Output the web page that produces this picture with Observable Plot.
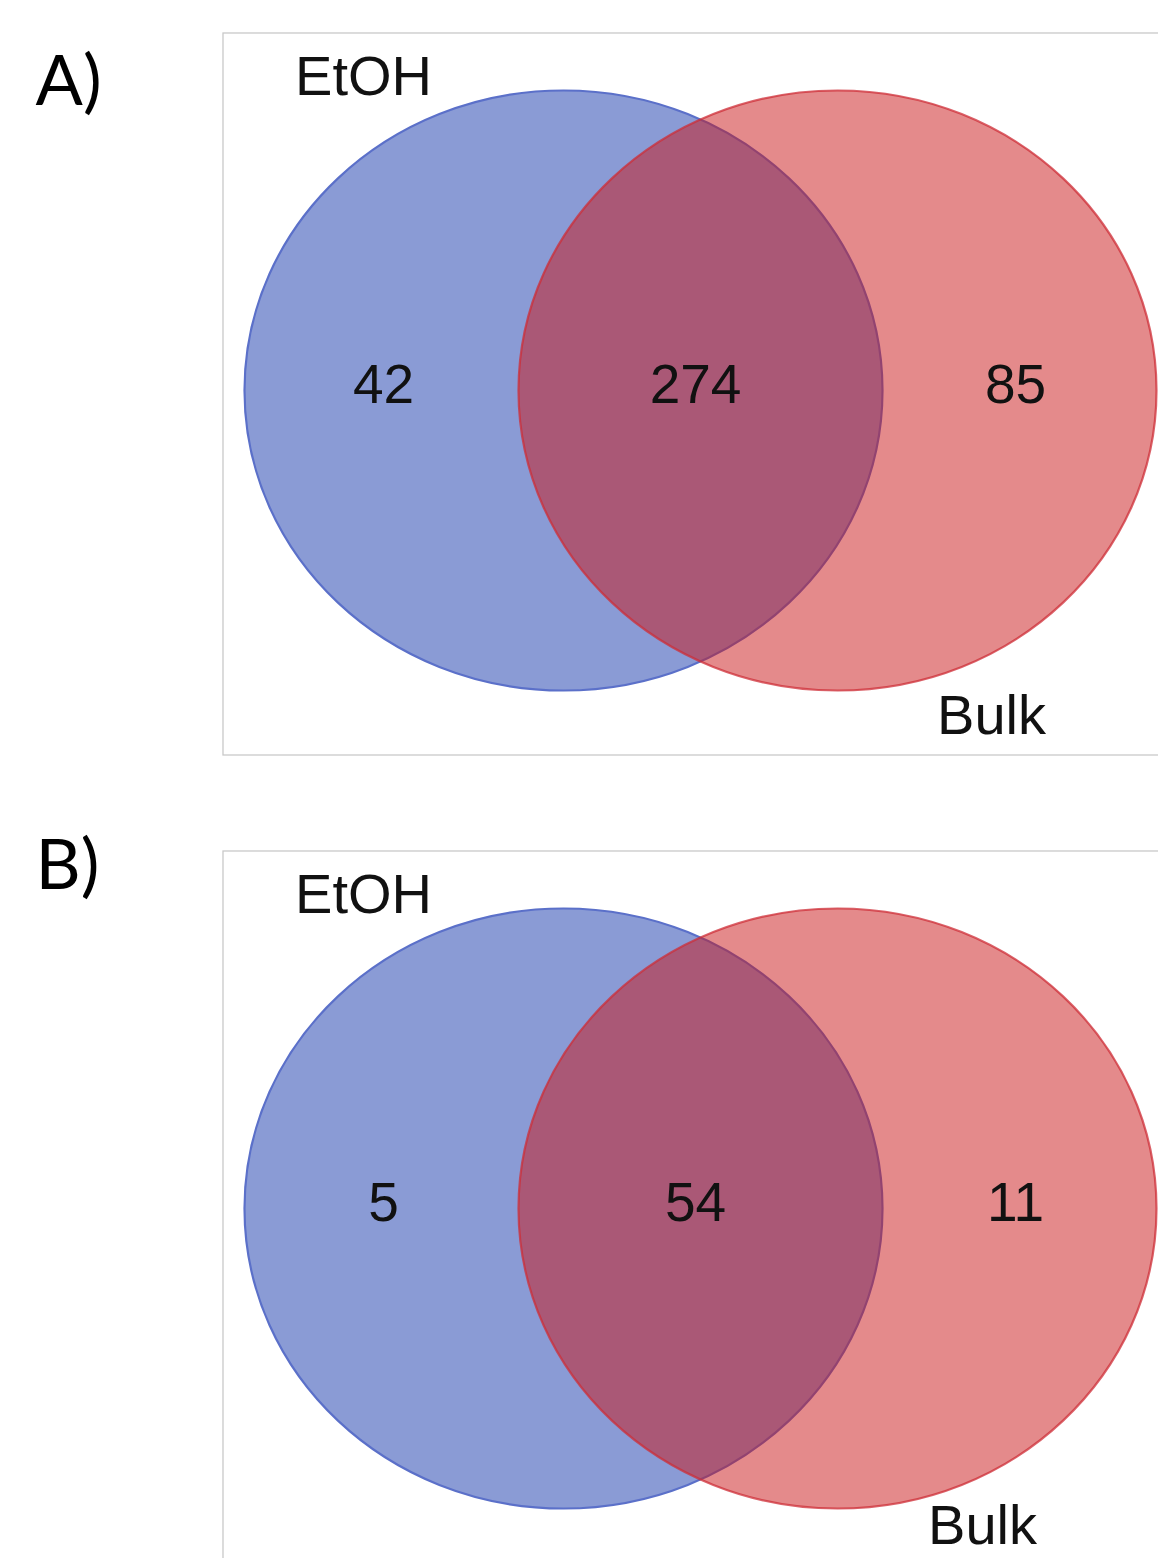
<!DOCTYPE html>
<html>
<head>
<meta charset="utf-8">
<script src="https://cdn.jsdelivr.net/npm/d3@7"></script>
<script src="https://cdn.jsdelivr.net/npm/@observablehq/plot@0.6"></script>
<style>
  html, body { margin: 0; padding: 0; background: #ffffff; }
  #chart svg { display: block; background: #ffffff; }
</style>
</head>
<body>
<div id="chart"></div>
<script>
// ---- data ----
const panelLabels = ["A)", "B)"];
const setNames = ["EtOH", "Bulk"];
const onlyEtOH = [42, 5];
const shared = [274, 54];
const onlyBulk = [85, 11];

// ---- layout (pixels, computed in code) ----
const W = 1158, H = 1558;
const panelOffset = [0, 818];
const boxLeft = 223, boxRight = 1162, boxTop = 33, boxBottom = 755;
const cy = 390, cxLeft = 563, cxRight = 837;
const rY = 300, aspect = 319 / 300;
const numberX = [383, 695, 1015], numberY = 385;
const etohX = 363, etohY = 77;
const bulkX = [991, 982], bulkY = [716, 708];
const panelLabelX = 35, panelLabelY = [82, 866];

// ellipse symbol for Plot.dot
const ellipseSymbol = {
  draw(ctx, size) {
    const r = Math.sqrt(size / Math.PI);
    const rx = r * aspect, ry = r, k = 0.5522847498;
    ctx.moveTo(rx, 0);
    ctx.bezierCurveTo(rx, ry * k, rx * k, ry, 0, ry);
    ctx.bezierCurveTo(-rx * k, ry, -rx, ry * k, -rx, 0);
    ctx.bezierCurveTo(-rx, -ry * k, -rx * k, -ry, 0, -ry);
    ctx.bezierCurveTo(rx * k, -ry, rx, -ry * k, rx, 0);
    ctx.closePath();
  }
};

const boxes = panelLabels.map((p, i) => ({
  panel: p, x1: boxLeft, x2: boxRight,
  y1: boxTop + panelOffset[i], y2: boxBottom + panelOffset[i] + (i === 1 ? 40 : 0)
}));
const etohCircles = panelLabels.map((p, i) => ({panel: p, set: setNames[0], x: cxLeft, y: cy + panelOffset[i]}));
const bulkCircles = panelLabels.map((p, i) => ({panel: p, set: setNames[1], x: cxRight, y: cy + panelOffset[i]}));
const counts = panelLabels.flatMap((p, i) => [onlyEtOH[i], shared[i], onlyBulk[i]].map((v, j) => ({
  panel: p, value: v, x: numberX[j], y: numberY + panelOffset[i]
})));
const setLabels = panelLabels.flatMap((p, i) => [
  {text: setNames[0], x: etohX, y: etohY + panelOffset[i]},
  {text: setNames[1], x: bulkX[i], y: bulkY[i] + panelOffset[i]}
]);
const panelTexts = panelLabels.map((p, i) => ({text: p, x: panelLabelX, y: panelLabelY[i]}));

const chart = Plot.plot({
  width: W,
  height: H,
  margin: 0,
  x: {domain: [0, W], range: [0, W], axis: null},
  y: {domain: [0, H], range: [0, H], axis: null},
  marks: [
    Plot.rect(boxes, {x1: "x1", x2: "x2", y1: "y1", y2: "y2", fill: "none", stroke: "#c9c9c9", strokeWidth: 1.3}),
    Plot.dot(etohCircles, {x: "x", y: "y", r: rY, symbol: ellipseSymbol,
      fill: "#8a9bd5", stroke: "#5b70c9", strokeWidth: 2.2}),
    Plot.dot(bulkCircles, {x: "x", y: "y", r: rY, symbol: ellipseSymbol,
      fill: "rgb(201,22,24)", fillOpacity: 0.5, stroke: "rgb(206,45,55)", strokeOpacity: 0.75, strokeWidth: 2.2}),
    Plot.text(counts, {x: "x", y: "y", text: d => String(d.value), fontSize: 55,
      fontFamily: "Liberation Sans, Arial, sans-serif", fill: "#111"}),
    Plot.text(setLabels, {x: "x", y: "y", text: "text", fontSize: 56,
      fontFamily: "Liberation Sans, Arial, sans-serif", fill: "#111"}),
    Plot.text(panelTexts, {x: "x", y: "y", text: "text", fontSize: 70, textAnchor: "start",
      fontFamily: "Lato, Open Sans, sans-serif", fill: "#000"})
  ]
});
document.getElementById("chart").appendChild(chart);
</script>
</body>
</html>
